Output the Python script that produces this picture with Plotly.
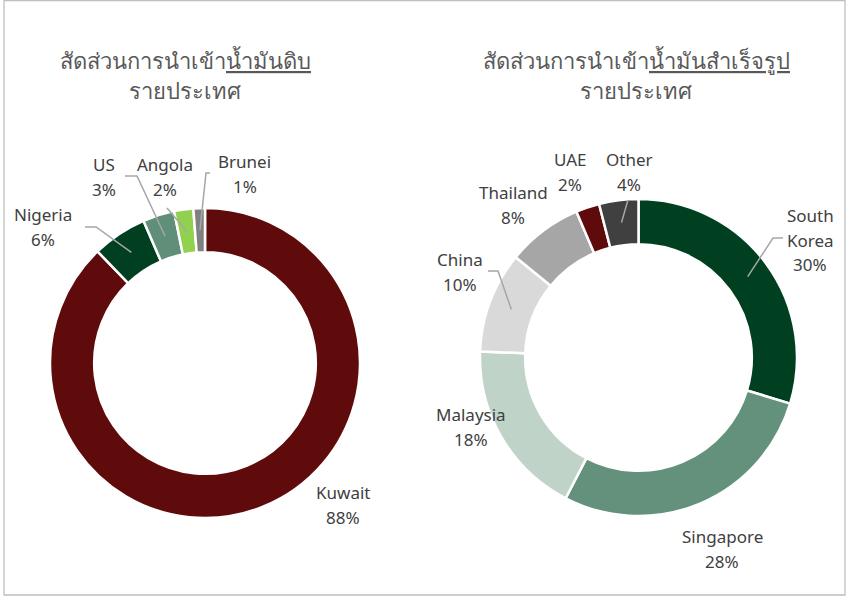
import math
import plotly.graph_objects as go

W, H = 847, 600

# ---------------- data ----------------
crude_countries = ["Kuwait", "Nigeria", "US", "Angola", "Brunei"]
crude_share = [87.8, 5.7, 3.3, 2.0, 1.2]

refined_countries = ["South Korea", "Singapore", "Malaysia", "China", "Thailand", "UAE", "Other"]
refined_share = [29.7, 27.9, 18.0, 10.3, 7.7, 2.4, 4.0]

crude_title = ["สัดส่วนการนำเข้า<u>น้ำมันดิบ</u>", "รายประเทศ"]
refined_title = ["สัดส่วนการนำเข้า<u>น้ำมันสำเร็จรูป</u>", "รายประเทศ"]

# ---------------- styles ----------------
crude_colors = ["#5f0b0b", "#004021", "#5f8f78", "#92d050", "#808080"]
refined_colors = ["#004021", "#64917c", "#bfd3c8", "#d9d9d9", "#a6a6a6", "#5f0b0b", "#404040"]

LABEL_FONT = "Noto Sans, Open Sans, DejaVu Sans, sans-serif"
TITLE_FONT = "Tahoma, Leelawadee UI, Noto Sans, DejaVu Sans, sans-serif"
LABEL_COLOR = "#404040"
TITLE_COLOR = "#595959"
LINE_COLOR = "#a6a6a6"
LABEL_LINE_GAP = 24.5
TITLE_LINE_GAP = 30

# donut geometry (pixels)
crude_geo = dict(cx=205, cy=363, r=155, hole=0.715)
refined_geo = dict(cx=638.5, cy=357.5, r=158.5, hole=0.715)

# label block centres (pixels) and leader-line elbows (None = no leader)
crude_label_pos = [(343, 505), (43, 227), (104, 177), (165, 177), (245, 174)]
crude_leader = [None, [(85, 227), (96, 227)], [(125, 176), (137, 176)], [(167, 208)], [(210, 173), (206, 173)]]

refined_label_pos = [(810, 240), (722, 549), (471, 427), (460, 272), (513, 205), (570, 172), (629, 172)]
refined_leader = [[(783, 238), (773, 238)], None, None, [(488, 271), (498, 271)], None, None, [(628, 200)]]


def px2paper(x, y):
    return x / W, 1 - y / H


def domain(geo):
    cx, cy, r = geo["cx"], geo["cy"], geo["r"]
    return dict(x=[(cx - r) / W, (cx + r) / W], y=[1 - (cy + r) / H, 1 - (cy - r) / H])


fig = go.Figure()
for labels, vals, cols, geo in [
    (crude_countries, crude_share, crude_colors, crude_geo),
    (refined_countries, refined_share, refined_colors, refined_geo),
]:
    fig.add_trace(go.Pie(
        labels=labels, values=vals, sort=False, direction="clockwise", rotation=0,
        hole=geo["hole"], textinfo="none", showlegend=False,
        marker=dict(colors=cols, line=dict(color="white", width=2.5)),
        domain=domain(geo),
    ))

annotations = []
shapes = []


def add_text_block(lines, cx, cy, gap, font):
    n = len(lines)
    for i, line in enumerate(lines):
        x, y = px2paper(cx, cy + (i - (n - 1) / 2) * gap)
        annotations.append(dict(
            x=x, y=y, xref="paper", yref="paper", text=line, showarrow=False,
            xanchor="center", yanchor="middle", font=font,
        ))


def add_labels(labels, vals, geo, positions, leaders):
    total = sum(vals)
    cum = 0.0
    rmid = geo["r"] * (1 + geo["hole"]) / 2
    for lab, v, pos, lead in zip(labels, vals, positions, leaders):
        mid = (cum + v / 2) / total * 2 * math.pi
        cum += v
        lines = lab.split(" ") + [f"{round(v)}%"]
        add_text_block(lines, pos[0], pos[1], LABEL_LINE_GAP,
                       dict(family=LABEL_FONT, size=17, color=LABEL_COLOR))
        if lead:
            ax = geo["cx"] + rmid * math.sin(mid)
            ay = geo["cy"] - rmid * math.cos(mid)
            pts = list(lead) + [(ax, ay)]
            path = "M " + " L ".join(f"{px2paper(a, b)[0]},{px2paper(a, b)[1]}" for a, b in pts)
            shapes.append(dict(type="path", xref="paper", yref="paper", path=path,
                               line=dict(color=LINE_COLOR, width=1.5)))


add_labels(crude_countries, crude_share, crude_geo, crude_label_pos, crude_leader)
add_labels(refined_countries, refined_share, refined_geo, refined_label_pos, refined_leader)

for title, cx in [(crude_title, 185), (refined_title, 636)]:
    add_text_block(title, cx, 75, TITLE_LINE_GAP,
                   dict(family=TITLE_FONT, size=22, color=TITLE_COLOR))

# outer chart border
x0, y0 = px2paper(4, 595)
x1, y1 = px2paper(845, 0.5)
shapes.append(dict(type="rect", xref="paper", yref="paper", x0=x0, y0=y0, x1=x1, y1=y1,
                   line=dict(color="#bfbfbf", width=1.3), fillcolor="rgba(0,0,0,0)"))

fig.update_layout(
    width=W, height=H, margin=dict(l=0, r=0, t=0, b=0),
    paper_bgcolor="white", plot_bgcolor="white",
    annotations=annotations, shapes=shapes,
)

fig.write_html("out.html", config={"displayModeBar": False},
               post_script="document.body.style.margin='0';")
